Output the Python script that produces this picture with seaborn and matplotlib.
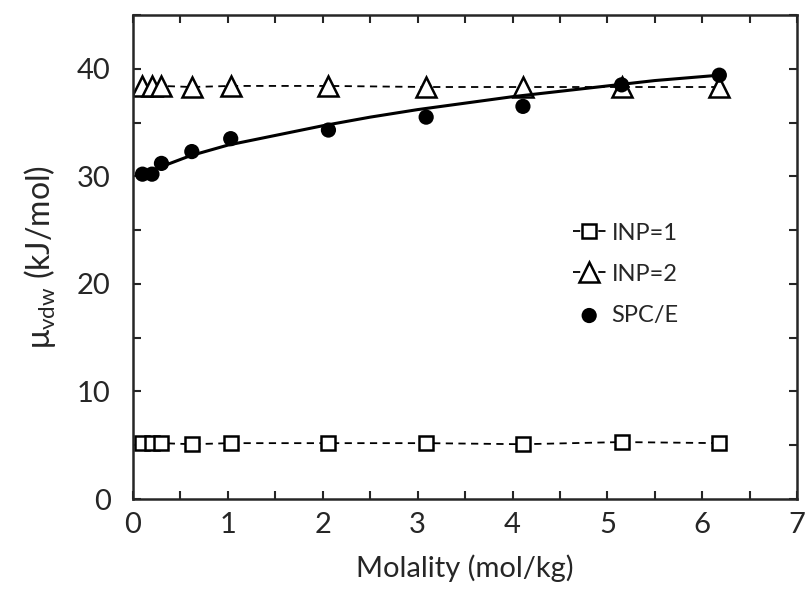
import numpy as np
import matplotlib
matplotlib.use("Agg")
import matplotlib.pyplot as plt
import seaborn as sns
from matplotlib.ticker import MultipleLocator

# data
molality = [0.1, 0.2, 0.3, 0.62, 1.03, 2.06, 3.09, 4.11, 5.15, 6.18]
inp1 = [5.2, 5.2, 5.2, 5.1, 5.2, 5.2, 5.2, 5.1, 5.3, 5.2]
inp2 = [38.4, 38.4, 38.4, 38.3, 38.4, 38.4, 38.3, 38.3, 38.3, 38.3]
spce = [30.2, 30.2, 31.2, 32.3, 33.5, 34.3, 35.5, 36.5, 38.5, 39.4]

# trend curve through SPC/E points
fit_x = [0.3, 0.6, 1.0, 1.5, 2.0, 2.5, 3.0, 3.5, 4.0, 4.5, 5.0, 5.5, 6.18]
fit_y = [30.9, 31.9, 32.9, 33.8, 34.7, 35.5, 36.2, 36.8, 37.4, 37.9, 38.4, 38.9, 39.4]

sns.set_style("ticks")
plt.rcParams['font.family'] = ['Lato', 'DejaVu Sans']
plt.rcParams['mathtext.fontset'] = 'custom'
plt.rcParams['mathtext.rm'] = 'Lato'

fig = plt.figure(figsize=(8.06, 5.97), dpi=100)
ax = fig.add_axes([0.165, 0.164, 0.824, 0.811])

sns.lineplot(x=molality, y=inp1, ax=ax, color='black', lw=1.3, linestyle=(0, (4, 3)),
             marker='s', markersize=10, markerfacecolor='white', markeredgecolor='black',
             markeredgewidth=1.8, label='INP=1')
sns.lineplot(x=molality, y=inp2, ax=ax, color='black', lw=1.3, linestyle=(0, (4, 3)),
             marker='^', markersize=14, markerfacecolor='white', markeredgecolor='black',
             markeredgewidth=1.8, label='INP=2')
sns.lineplot(x=fit_x, y=fit_y, ax=ax, color='black', lw=2.2, legend=False)
sns.scatterplot(x=molality, y=spce, ax=ax, color='black', s=120, edgecolor='none',
                label='SPC/E', zorder=3)

ax.set_xlim(0, 7)
ax.set_ylim(0, 45)
ax.xaxis.set_major_locator(MultipleLocator(1))
ax.xaxis.set_minor_locator(MultipleLocator(0.5))
ax.yaxis.set_major_locator(MultipleLocator(10))
ax.yaxis.set_minor_locator(MultipleLocator(5))
ax.tick_params(which='both', direction='in', top=True, right=True, width=1.5,
               length=6, labelsize=21)
ax.tick_params(axis='x', pad=9)
ax.tick_params(axis='y', pad=16)
for sp in ax.spines.values():
    sp.set_linewidth(1.8)

ax.set_xlabel('Molality (mol/kg)', fontsize=21, labelpad=12)
ax.set_ylabel(r'$\mathregular{\mu_{vdw}}$ (kJ/mol)', fontsize=23, labelpad=14)

ax.legend(loc='upper left', bbox_to_anchor=(0.63, 0.615), frameon=False, fontsize=17,
          handlelength=1.4, labelspacing=0.85, handletextpad=0.25)

fig.savefig('out.png', dpi=100)
